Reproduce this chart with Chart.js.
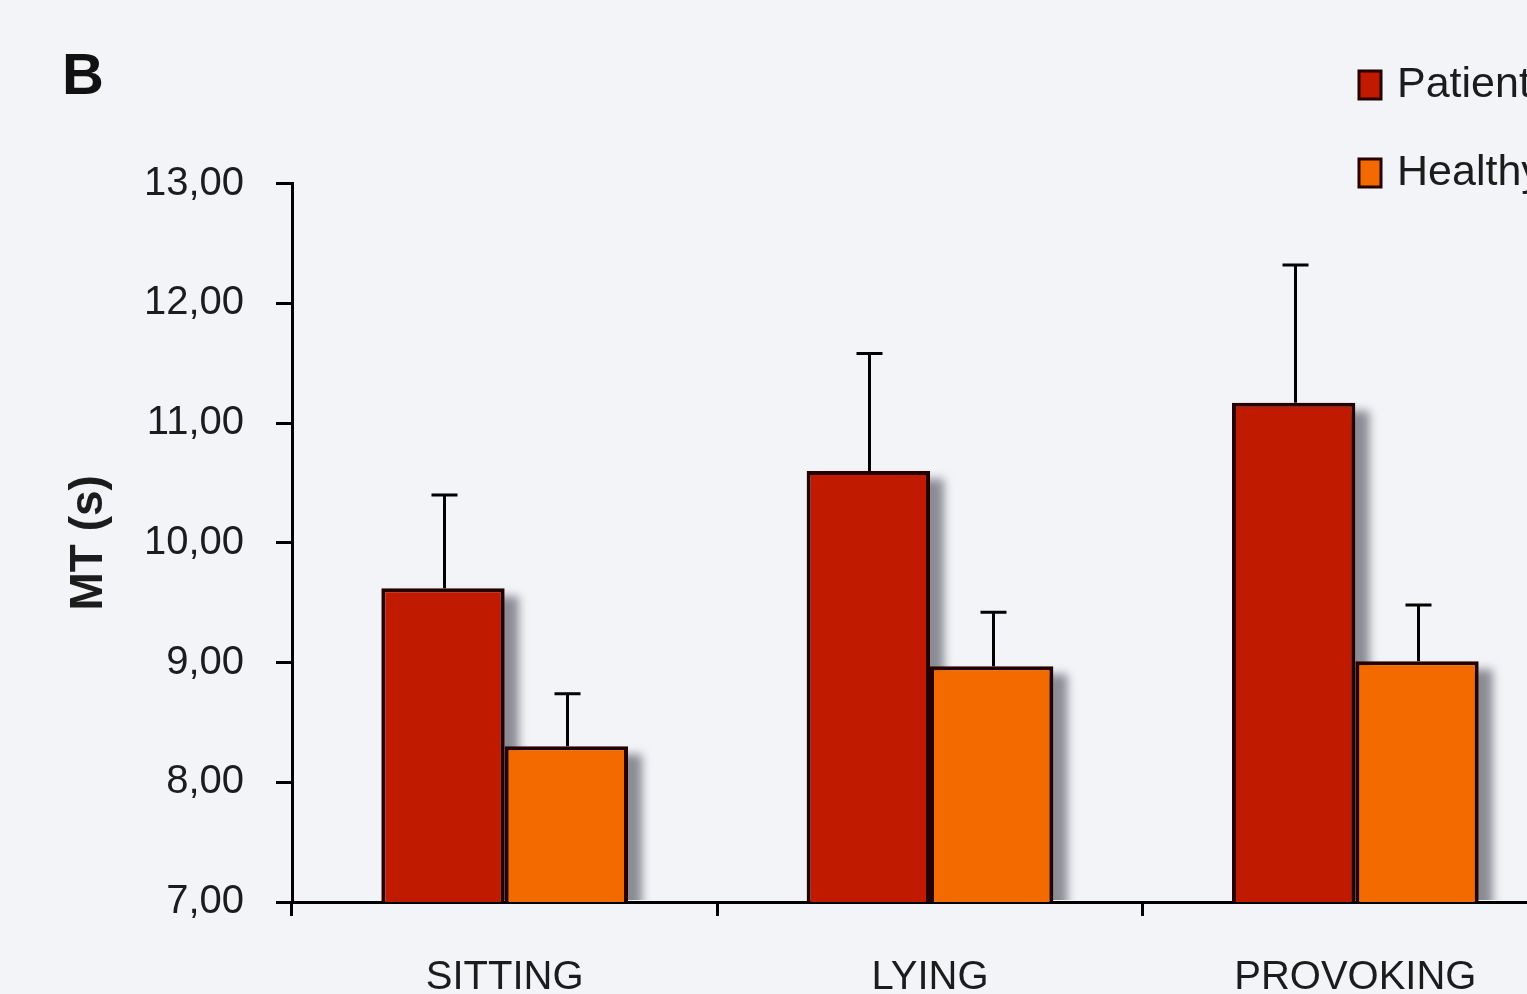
<!DOCTYPE html>
<html>
<head>
<meta charset="utf-8">
<script src="https://cdn.jsdelivr.net/npm/chart.js@4.4.1/dist/chart.umd.min.js"></script>
<style>
  html, body { margin: 0; padding: 0; background: #f2f4f8; overflow: hidden; }
  #wrap { position: absolute; left: 0; top: 0; width: 1600px; height: 994px; }
</style>
</head>
<body>
<div id="wrap"><canvas id="chart" width="1600" height="994"></canvas></div>
<script>
const categories = ["SITTING", "LYING", "PROVOKING"];
const seriesNames = ["Patients", "Healthy subjects"];
const patients = [9.62, 10.6, 11.17];
const healthy = [8.3, 8.97, 9.01];
const patientsErr = [10.4, 11.58, 12.32];
const healthyErr = [8.74, 9.42, 9.48];
const yTicks = [7, 8, 9, 10, 11, 12, 13];

const PATIENT_COLOR = "#c01a00";
const HEALTHY_COLOR = "#f26a00";
const EDGE = "#250200";
const TEXT = "#1c1c1c";

// soft grey shadow to the right of every bar, drawn before the bars
const barShadow = {
  id: "barShadow",
  beforeDatasetsDraw(chart) {
    const { ctx, chartArea } = chart;
    ctx.save();
    ctx.beginPath();
    ctx.rect(chartArea.left, chartArea.top - 40, chartArea.right - chartArea.left + 60, chartArea.bottom - chartArea.top + 38);
    ctx.clip();
    ctx.filter = "blur(5px)";
    ctx.fillStyle = "rgba(70,70,80,0.6)";
    chart.data.datasets.forEach((ds, i) => {
      chart.getDatasetMeta(i).data.forEach((bar) => {
        const p = bar.getProps(["x", "y", "base", "width"], true);
        ctx.fillRect(p.x - p.width / 2 + 10, p.y + 8, p.width + 4, p.base - p.y);
      });
    });
    ctx.restore();
  },
};

// upper error bars
const errorBars = {
  id: "errorBars",
  afterDatasetsDraw(chart) {
    const { ctx } = chart;
    const yScale = chart.scales.y;
    const errs = [patientsErr, healthyErr];
    ctx.save();
    ctx.strokeStyle = "#000";
    ctx.lineWidth = 3;
    chart.data.datasets.forEach((ds, i) => {
      chart.getDatasetMeta(i).data.forEach((bar, j) => {
        const p = bar.getProps(["x", "y"], true);
        const top = yScale.getPixelForValue(errs[i][j]);
        const x = Math.round(p.x) + 1.5;
        ctx.beginPath();
        ctx.moveTo(x, p.y);
        ctx.lineTo(x, top);
        ctx.moveTo(x - 13, top);
        ctx.lineTo(x + 13, top);
        ctx.stroke();
      });
    });
    ctx.restore();
  },
};

// legend in the top right corner
const cornerLegend = {
  id: "cornerLegend",
  afterDraw(chart) {
    const { ctx } = chart;
    ctx.save();
    chart.data.datasets.forEach((ds, i) => {
      const y = 85 + i * 88;
      ctx.fillStyle = ds.backgroundColor;
      ctx.fillRect(1359, y - 14, 22, 28);
      ctx.strokeStyle = EDGE;
      ctx.lineWidth = 3;
      ctx.strokeRect(1359, y - 14, 22, 28);
      ctx.fillStyle = TEXT;
      ctx.font = "43px 'Liberation Sans', Arial, sans-serif";
      ctx.textBaseline = "middle";
      ctx.fillText(ds.label, 1397, y);
    });
    ctx.restore();
  },
};

const tickFont = { family: "'Liberation Sans', Arial, sans-serif", size: 40 };

new Chart(document.getElementById("chart"), {
  type: "bar",
  data: {
    labels: categories,
    datasets: [
      {
        label: seriesNames[0],
        data: patients,
        backgroundColor: PATIENT_COLOR,
        borderColor: EDGE,
        borderWidth: 4,
      },
      {
        label: seriesNames[1],
        data: healthy,
        backgroundColor: HEALTHY_COLOR,
        borderColor: EDGE,
        borderWidth: 4,
      },
    ],
  },
  options: {
    responsive: false,
    animation: false,
    devicePixelRatio: 1,
    datasets: { bar: { categoryPercentage: 0.58, barPercentage: 1.0 } },
    layout: { padding: { left: 62, right: 32, top: 0, bottom: 0 } },
    scales: {
      x: {
        offset: true,
        grid: {
          display: true,
          offset: true,
          drawOnChartArea: false,
          drawTicks: true,
          tickLength: 14,
          color: "#000",
          lineWidth: 3,
        },
        border: { display: true, color: "#000", width: 3 },
        ticks: { font: tickFont, color: TEXT, padding: 38 },
        afterFit(scale) { scale.height = 92; },
      },
      y: {
        min: yTicks[0],
        max: yTicks[yTicks.length - 1],
        afterBuildTicks(scale) { scale.ticks = yTicks.map((v) => ({ value: v })); },
        grid: {
          display: true,
          drawOnChartArea: false,
          drawTicks: true,
          tickLength: 16,
          color: "#000",
          lineWidth: 3,
        },
        border: { display: true, color: "#000", width: 3 },
        ticks: {
          font: tickFont,
          color: TEXT,
          padding: 32,
          callback: (v) => Number(v).toFixed(2).replace(".", ","),
        },
        title: {
          display: true,
          text: "MT (s)",
          color: TEXT,
          font: { family: "'Liberation Sans', Arial, sans-serif", size: 46, weight: "bold" },
          padding: { top: 0, bottom: 0 },
        },
        afterFit(scale) { scale.width = 230; },
      },
    },
    plugins: {
      legend: { display: false },
      tooltip: { enabled: false },
      title: {
        display: true,
        text: "B",
        align: "start",
        color: "#111",
        font: { family: "'Liberation Sans', Arial, sans-serif", size: 58, weight: "bold" },
        padding: { top: 43, bottom: 71 },
      },
    },
  },
  plugins: [barShadow, errorBars, cornerLegend],
});
</script>
</body>
</html>
